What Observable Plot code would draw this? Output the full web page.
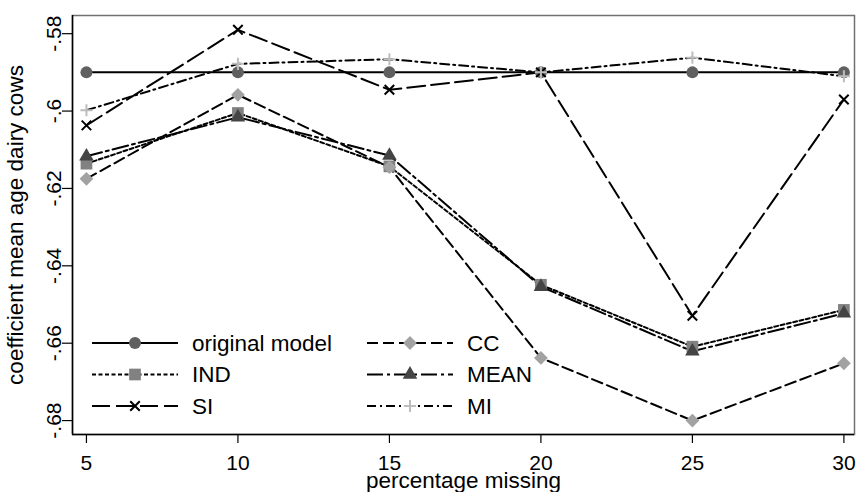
<!DOCTYPE html>
<html><head><meta charset="utf-8">
<script src="https://cdn.jsdelivr.net/npm/d3@7"></script>
<script src="https://cdn.jsdelivr.net/npm/@observablehq/plot@0.6"></script>
<style>body{margin:0;background:#fff}#chart{width:859px;height:492px;overflow:hidden}</style>
</head><body><div id="chart"></div>
<script>
// ---- data ----
const pct = [5, 10, 15, 20, 25, 30];
const originalModel = [-0.590, -0.590, -0.590, -0.590, -0.590, -0.590];
const IND  = [-0.6136, -0.6005, -0.6143, -0.6449, -0.6609, -0.6514];
const SI   = [-0.6037, -0.5790, -0.5945, -0.5900, -0.6529, -0.5970];
const CC   = [-0.6175, -0.5958, -0.6145, -0.6638, -0.6800, -0.6652];
const MEAN = [-0.6117, -0.6016, -0.6115, -0.6454, -0.6621, -0.6523];
const MI   = [-0.5998, -0.5878, -0.5866, -0.5900, -0.5862, -0.5910];
const xTicks = [5, 10, 15, 20, 25, 30];
const yTicks = [-0.58, -0.60, -0.62, -0.64, -0.66, -0.68];
const yTickLabels = ["-.58", "-.6", "-.62", "-.64", "-.66", "-.68"];
const xLabel = "percentage missing";
const yLabel = "coefficient mean age dairy cows";
const xDomain = [4.54, 30.35];
const yDomain = [-0.6836, -0.5753];

const FONT = "'Liberation Sans', Arial, Helvetica, sans-serif";

const series = [
  {name: "original model", values: originalModel, symbol: "circle",   color: "#606060", dash: null,          r: 6,   stroked: false},
  {name: "IND",            values: IND,           symbol: "square",   color: "#818181", dash: "4,2.5",       r: 6.6, stroked: false},
  {name: "SI",             values: SI,            symbol: "times",    color: "#000000", dash: "18,6",        r: 4.4, stroked: true},
  {name: "CC",             values: CC,            symbol: "diamond2", color: "#a2a2a2", dash: "11,5",        r: 6.2, stroked: false},
  {name: "MEAN",           values: MEAN,          symbol: "triangle", color: "#444444", dash: "16,4,3,4",    r: 5.4, stroked: false},
  {name: "MI",             values: MI,            symbol: "plus",     color: "#bdbdbd", dash: "9,4,2,4",     r: 4,   stroked: true}
];

const rows = s => pct.map((p, i) => ({series: s.name, pct: p, value: s.values[i]}));

const marks = [
  Plot.frame({stroke: "#707070", strokeWidth: 1.5}),
  Plot.ruleX([xDomain[0]], {stroke: "#000", strokeWidth: 1.5}),
  Plot.ruleY([yDomain[0]], {stroke: "#000", strokeWidth: 1.5}),
  Plot.axisX({ticks: xTicks, tickSize: 9, tickPadding: 12, label: null, fontSize: 21, strokeWidth: 1.2}),
  Plot.axisY({ticks: yTicks, tickFormat: d => yTickLabels[yTicks.findIndex(t => Math.abs(t - d) < 1e-9)],
              tickSize: 10, tickRotate: -90, tickPadding: 2, label: null, fontSize: 21, strokeWidth: 1.2}),
  Plot.text([xLabel], {frameAnchor: "bottom", dy: 46, fontSize: 22.5, textAnchor: "middle", lineAnchor: "middle"}),
  Plot.text([yLabel], {frameAnchor: "left", dx: -57, rotate: -90, fontSize: 22.5, textAnchor: "middle", lineAnchor: "middle"})
];
for (const s of series) {
  marks.push(Plot.line(rows(s), {x: "pct", y: "value", stroke: "#000", strokeWidth: 2,
    strokeDasharray: s.dash || undefined}));
}
for (const s of series) {
  const opts = {x: "pct", y: "value", symbol: s.symbol, r: s.r};
  if (s.stroked) { opts.stroke = s.color; opts.strokeWidth = 2; opts.fill = "none"; }
  else { opts.fill = s.color; opts.stroke = "none"; }
  marks.push(Plot.dot(rows(s), opts));
}

const chart = Plot.plot({
  width: 859, height: 492,
  marginLeft: 72, marginRight: 5, marginTop: 15, marginBottom: 58,
  style: {fontFamily: FONT, fontSize: "21px", background: "#fff", color: "#000"},
  x: {domain: xDomain},
  y: {domain: yDomain},
  marks
});
document.getElementById("chart").appendChild(chart);

// ---- legend (inside plot, bottom-left) ----
const svg = d3.select(chart);
const lg = svg.append("g").attr("font-family", FONT).attr("font-size", 22.5).attr("text-anchor", "start");
const symbolMap = {circle: d3.symbolCircle, square: d3.symbolSquare, times: d3.symbolTimes,
  diamond2: d3.symbolDiamond2, triangle: d3.symbolTriangle, plus: d3.symbolPlus};
const colX = [92, 367], rowY = [343, 374.5, 406], lineLen = 86, textGap = 14;
series.forEach((s, i) => {
  const col = Math.floor(i / 3), row = i % 3;
  const x0 = colX[col], y0 = rowY[row];
  const g = lg.append("g").attr("transform", `translate(${x0},${y0})`);
  g.append("line").attr("x1", 0).attr("x2", lineLen).attr("y1", 0).attr("y2", 0)
    .attr("stroke", "#000").attr("stroke-width", 2)
    .attr("stroke-dasharray", s.dash || null);
  const path = d3.symbol(symbolMap[s.symbol], Math.PI * s.r * s.r)();
  const p = g.append("path").attr("d", path).attr("transform", `translate(${lineLen / 2},0)`);
  if (s.stroked) p.attr("fill", "none").attr("stroke", s.color).attr("stroke-width", 2);
  else p.attr("fill", s.color);
  g.append("text").attr("x", lineLen + textGap).attr("y", 0).attr("dy", "0.35em")
    .attr("text-anchor", "start").attr("fill", "#000").text(s.name);
});
</script>
</body></html>
